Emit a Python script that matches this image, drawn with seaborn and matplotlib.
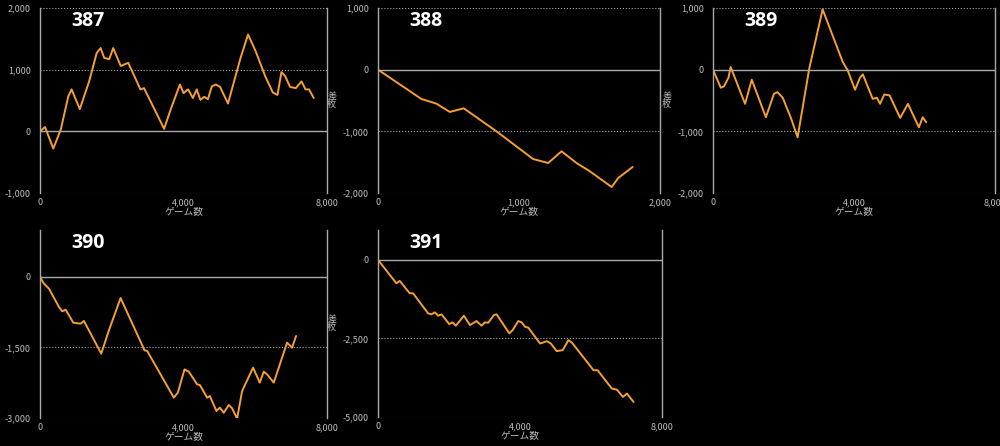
import numpy as np
import pandas as pd
import seaborn as sns
import matplotlib.pyplot as plt

# 各台のデータ (ゲーム数, 差枚)
g387 = [0, 140, 370, 580, 790, 880, 1110, 1370, 1580, 1690, 1790, 1930, 2040, 2250, 2460, 2800, 2900, 3460, 3640, 3900,
        4000, 4130, 4260, 4370, 4470, 4580, 4680, 4790, 4900, 5020, 5240, 5590, 5800, 6010, 6280, 6490, 6620, 6730, 6830,
        6970, 7130, 7290, 7400, 7500, 7630]
s387 = [0, 70, -280, 30, 570, 680, 360, 810, 1270, 1350, 1190, 1170, 1350, 1060, 1110, 680, 700, 40, 350, 760,
        620, 680, 540, 680, 510, 560, 520, 730, 760, 720, 450, 1190, 1570, 1300, 890, 630, 590, 960, 900,
        720, 700, 810, 680, 680, 540]
g388 = [0, 308, 414, 509, 608, 840, 1100, 1207, 1302, 1408, 1503, 1657, 1704, 1806]
s388 = [0, -476, -551, -686, -627, -1000, -1449, -1514, -1324, -1514, -1649, -1903, -1757, -1578]
g389 = [0, 220, 310, 440, 500, 910, 1100, 1500, 1730, 1830, 1980, 2210, 2400, 2730, 3110, 3680, 3820, 4030, 4170,
        4250, 4530, 4650, 4740, 4860, 5010, 5310, 5530, 5840, 5950, 6050]
s389 = [0, -293, -272, -130, 43, -554, -163, -772, -391, -364, -457, -783, -1098, 16, 978, 125, -11, -326, -130,
        -76, -473, -457, -554, -402, -418, -783, -554, -935, -772, -853]
g390 = [0, 111, 250, 529, 622, 715, 928, 1132, 1225, 1707, 1921, 2246, 2914, 2988, 3731, 3842, 4028, 4148, 4380,
        4455, 4659, 4733, 4919, 5012, 5123, 5263, 5355, 5494, 5634, 5940, 6126, 6237, 6330, 6516, 6887, 7026, 7138]
s390 = [0, -142, -248, -638, -730, -695, -972, -993, -936, -1631, -1135, -447, -1560, -1574, -2567, -2461, -1965,
        -2014, -2284, -2298, -2567, -2532, -2851, -2780, -2887, -2723, -2794, -3014, -2426, -1929, -2248, -2014,
        -2071, -2248, -1397, -1504, -1255]
g391 = [0, 518, 612, 894, 988, 1412, 1506, 1600, 1694, 1788, 2005, 2099, 2193, 2419, 2588, 2776, 2918, 3012, 3106,
        3266, 3341, 3699, 3793, 3953, 4047, 4141, 4235, 4565, 4659, 4753, 4866, 5035, 5205, 5365, 5459, 6071,
        6184, 6588, 6729, 6899, 7012, 7200]
s391 = [0, -745, -670, -1064, -1064, -1702, -1734, -1670, -1777, -1734, -2043, -1989, -2096, -1777, -2074, -1947,
        -2096, -1989, -2000, -1755, -1734, -2340, -2234, -1947, -1989, -2128, -2160, -2660, -2628, -2585, -2660,
        -2904, -2872, -2553, -2628, -3511, -3511, -4096, -4128, -4362, -4255, -4521]

sns.set_style("dark")
plt.rcParams['font.family'] = ['Noto Sans CJK JP', 'DejaVu Sans']

panels = [
    ("387", g387, s387, [0.040, 0.5673, 0.287, 0.4148], (0, 8000), (-1000, 2000), [0, 4000, 8000], [-1000, 0, 1000, 2000]),
    ("388", g388, s388, [0.378, 0.5673, 0.282, 0.4148], (0, 2000), (-2000, 1000), [0, 1000, 2000], [-2000, -1000, 0, 1000]),
    ("389", g389, s389, [0.713, 0.5673, 0.282, 0.4148], (0, 8000), (-2000, 1000), [0, 4000, 8000], [-2000, -1000, 0, 1000]),
    ("390", g390, s390, [0.040, 0.0628, 0.287, 0.4215], (0, 8000), (-3000, 1000), [0, 4000, 8000], [-3000, -1500, 0]),
    ("391", g391, s391, [0.378, 0.0650, 0.284, 0.4193], (0, 8000), (-5000, 950), [0, 4000, 8000], [-5000, -2500, 0]),
]

fig = plt.figure(figsize=(10, 4.46), dpi=100, facecolor='black')
for name, g, s, pos, xl, yl, xt, yt in panels:
    ax = fig.add_axes(pos)
    ax.set_facecolor('black')
    df = pd.DataFrame({'g': g, 's': s})
    sns.lineplot(data=df, x='g', y='s', ax=ax, color='#f5a030', linewidth=1.4)
    ax.set_xlim(*xl)
    ax.set_ylim(*yl)
    ax.set_xticks(xt)
    ax.set_yticks(yt)
    ax.set_xticklabels([f"{v:,}" for v in xt])
    ax.set_yticklabels([f"{v:,}" for v in yt])
    ax.tick_params(colors='#bbbbbb', labelsize=6.5, length=3, width=0.8)
    ax.tick_params(axis='x', direction='in')
    for v in yt:
        if v != 0:
            ax.axhline(v, color='#aaaaaa', linestyle=':', linewidth=0.8)
    ax.axhline(0, color='#aaaaaa', linewidth=1.0)
    ax.grid(False)
    for side in ['top', 'bottom']:
        ax.spines[side].set_visible(False)
    ax.spines['left'].set_color('#aaaaaa')
    ax.spines['right'].set_color('#aaaaaa')
    ax.spines['left'].set_linewidth(1.0)
    ax.spines['right'].set_linewidth(1.0)
    ax.set_xlabel("ゲーム数", color='#bbbbbb', fontsize=7, labelpad=0)
    ax.set_ylabel("差\n枚", color='#bbbbbb', fontsize=6.5, rotation=0, labelpad=8, va='center', linespacing=0.9)
    ax.text(0.11, 0.93, name, transform=ax.transAxes, color='white', fontsize=14,
            fontweight='bold', va='center', family=['Open Sans', 'DejaVu Sans'])

fig.savefig("out.png", dpi=100, facecolor='black')
